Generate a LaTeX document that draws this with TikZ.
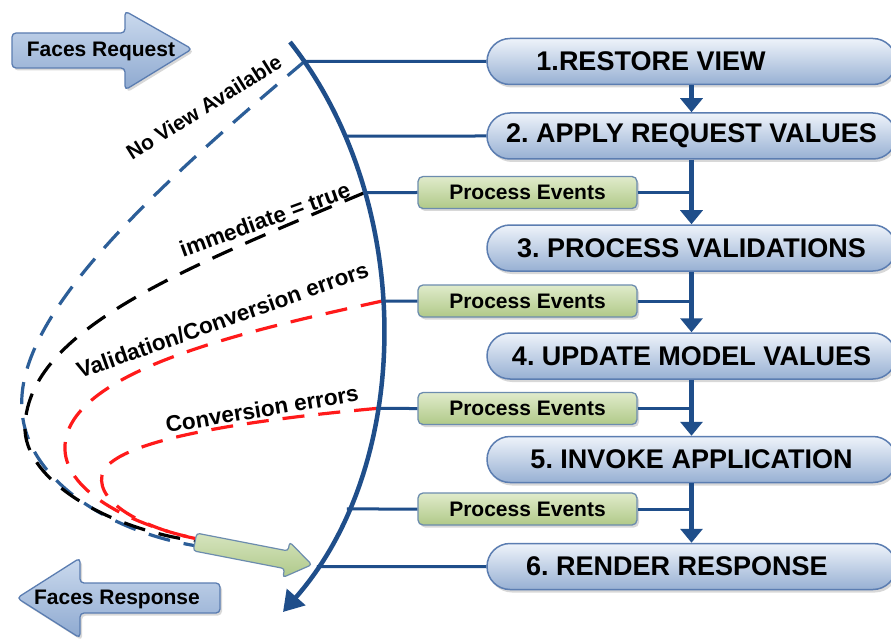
\documentclass[tikz,border=0pt]{standalone}
\usepackage{fontspec}
\setmainfont{Liberation Sans}
\usetikzlibrary{arrows.meta,shadows,intersections,calc}
\definecolor{dkblue}{HTML}{1F4E8A}
\definecolor{boxtop}{HTML}{EEF3FA}
\definecolor{boxbot}{HTML}{97B0D3}
\definecolor{boxline}{HTML}{5B7DB1}
\definecolor{grtop}{HTML}{E0EBCB}
\definecolor{grbot}{HTML}{B0C988}
\definecolor{grline}{HTML}{6C8CAE}
\definecolor{dashblue}{HTML}{2C5E98}
\definecolor{dashred}{HTML}{FF1A1A}
\definecolor{arrtop}{HTML}{CBDAEE}
\definecolor{arrbot}{HTML}{8EA9D0}
\definecolor{gatop}{HTML}{D6E4BE}
\definecolor{gabot}{HTML}{AFC98A}
\frenchspacing
\begin{document}
\begin{tikzpicture}[x=1pt,y=-1pt,
  phase/.style={draw=boxline, line width=1.5pt, rounded corners=23pt,
    top color=boxtop, bottom color=boxbot, minimum width=409pt,
    minimum height=46pt, inner sep=0pt,
    font=\fontsize{27}{29}\selectfont\bfseries,
    drop shadow={opacity=0.3, shadow xshift=2pt, shadow yshift=-3pt}},
  pev/.style={draw=grline, line width=1.3pt, rounded corners=5pt,
    top color=grtop, bottom color=grbot, minimum width=219pt,
    minimum height=32pt, inner sep=0pt,
    font=\fontsize{21}{23}\selectfont\bfseries,
    drop shadow={opacity=0.3, shadow xshift=2pt, shadow yshift=-2.5pt}},
  conn/.style={draw=dkblue, line width=3pt},
  flow/.style={draw=dkblue, line width=4.5pt, -{Triangle[width=22pt,length=14pt]}},
  bigcurve/.style={draw=dkblue, line width=4.5pt, -{Triangle[width=24pt,length=20pt]}},
  dsh/.style={line width=3.2pt, dash pattern=on 22pt off 14pt},
  lbl/.style={font=\fontsize{22.5}{24}\selectfont\bfseries, inner sep=0pt, anchor=base west},
  bigarrow/.style={draw=boxline, line width=1.3pt, rounded corners=4pt,
    top color=arrtop, bottom color=arrbot,
    drop shadow={opacity=0.3, shadow xshift=2pt, shadow yshift=-2.5pt}},
  arrtext/.style={font=\fontsize{21}{23}\selectfont\bfseries, inner sep=0pt}
]
\fill[white] (0,0) rectangle (891,639);
\useasboundingbox (0,0) rectangle (891,639);

% phase boxes
\node[phase] (p1) at (691.5,61.5) {\hspace*{-81pt}1.RESTORE VIEW};
\node[phase] (p2) at (691.5,136) {2. APPLY REQUEST VALUES};
\node[phase] (p3) at (691.5,248) {3. PROCESS VALIDATIONS};
\node[phase] (p4) at (691.5,356) {4. UPDATE MODEL VALUES};
\node[phase] (p5) at (691.5,459.5) {5. INVOKE APPLICATION};
\node[phase] (p6) at (691.5,566.5) {\hspace*{-29pt}6. RENDER RESPONSE};

% process events boxes
\node[pev] (e1) at (527.5,192.5) {Process Events};
\node[pev] (e2) at (527.5,301) {Process Events};
\node[pev] (e3) at (527.5,408.5) {Process Events};
\node[pev] (e4) at (527.5,509) {Process Events};

% vertical flow arrows
\draw[flow] (p1.south) -- (p2.north);
\draw[flow] (p2.south) -- (p3.north);
\draw[flow] (p3.south) -- (p4.north);
\draw[flow] (p4.south) -- (p5.north);
\draw[flow] (p5.south) -- (p6.north);

% events to the flow
\draw[conn] (e1.east) -- (e1.east -| p2.south);
\draw[conn] (e2.east) -- (e2.east -| p3.south);
\draw[conn] (e3.east) -- (e3.east -| p4.south);
\draw[conn] (e4.east) -- (e4.east -| p5.south);

% the big curve (only its path, for intersections)
\path[name path=curve] (290,42) .. controls (415,200) and (415,462) .. (283,612);
\path[name path=h1] (p1.west) -- ++(-300,0);
\path[name path=h2] (p2.west) -- ++(-300,0);
\path[name path=h3] (e1.west) -- ++(-200,0);
\path[name path=h4] (e2.west) -- ++(-200,0);
\path[name path=h5] (e3.west) -- ++(-200,0);
\path[name path=h6] (e4.west) -- ++(-200,0);
\path[name path=h7] (p6.west) -- ++(-300,0);
\path[name intersections={of=curve and h1, by={k1}}];
\path[name intersections={of=curve and h2, by={k2}}];
\path[name intersections={of=curve and h3, by={k3}}];
\path[name intersections={of=curve and h4, by={k4}}];
\path[name intersections={of=curve and h5, by={k5}}];
\path[name intersections={of=curve and h6, by={k6}}];
\path[name intersections={of=curve and h7, by={k7}}];

% dashed return paths
\draw[dsh, draw=dashblue] (k1) .. controls (140,200) and (15,320) .. (22,410)
   .. controls (26,480) and (110,532) .. (197,546);
\draw[dsh, draw=black] (k3) .. controls (180,270) and (30,330) .. (25,425)
   .. controls (22,480) and (110,530) .. (197,541);
\draw[dsh, draw=dashred] (k4) .. controls (250,330) and (70,370) .. (65,445)
   .. controls (62,490) and (130,525) .. (198,539);
\draw[dsh, draw=dashred] (k5) .. controls (250,420) and (110,440) .. (102,475)
   .. controls (96,505) and (150,530) .. (198,539);

% labels
\node[lbl, rotate=32, font=\fontsize{21}{23}\selectfont\bfseries] (l1) at (132,161) {No View Available};
\node[lbl, rotate=20] (l2) at (183,258) {immediate = true};
\node[lbl, rotate=19.5] (l3) at (80,379) {Validation/Conversion errors};
\node[lbl, rotate=9.5] (l4) at (167,433) {Conversion errors};

% green arrow
\begin{scope}[shift={(195,542)}, rotate=-11]
\path[draw=grline, line width=1.2pt, top color=gatop, bottom color=gabot, rounded corners=3pt]
  (0,-9) -- (93,-9) -- (93,-18) -- (119,0) -- (93,18) -- (93,9) -- (0,9) -- cycle;
\end{scope}

% big curve
\draw[bigcurve] (290,42) .. controls (415,200) and (415,462) .. (283,612);

% connectors from the curve
\draw[conn] (k1) -- (p1.west);
\draw[conn] (k2) -- (p2.west);
\draw[conn] (k3) -- (e1.west);
\draw[conn] (k4) -- (e2.west);
\draw[conn] (k5) -- (e3.west);
\draw[conn] (k6) -- (e4.west);
\draw[conn] (k7) -- (p6.west);

% Faces Request / Response arrows
\path[bigarrow] (12,33) -- (125,33) -- (125,11) -- (192,49) -- (125,90) -- (125,68) -- (12,68) -- cycle;
\node[arrtext] (freq) at (101,51) {Faces Request};
\path[bigarrow] (220,583) -- (80,583) -- (80,558) -- (17,598) -- (80,638) -- (80,613) -- (220,613) -- cycle;
\node[arrtext] (fres) at (117,599) {Faces Response};
\end{tikzpicture}
\end{document}
